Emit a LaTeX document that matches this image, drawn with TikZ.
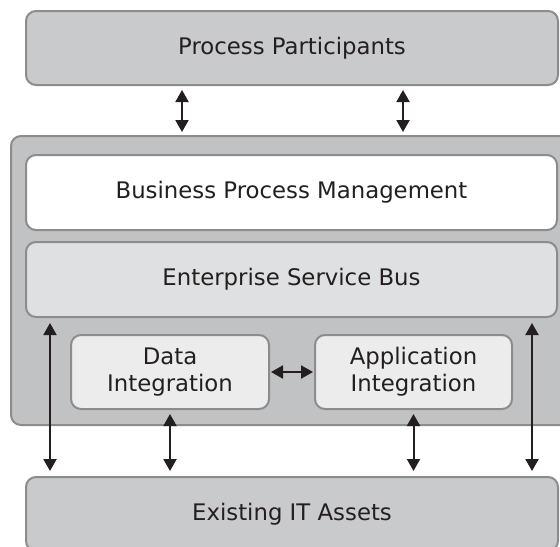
\documentclass[tikz,border=0pt]{standalone}
\usepackage{fontspec}
\setmainfont{DejaVu Sans}
\usetikzlibrary{arrows.meta}

\definecolor{boxgray}{HTML}{C9CACC}
\definecolor{coregray}{HTML}{C1C2C4}
\definecolor{busgray}{HTML}{DFE0E1}
\definecolor{intgray}{HTML}{ECECEC}
\definecolor{edgegray}{HTML}{8B8C8E}
\definecolor{inkblack}{HTML}{231F20}

\begin{document}
\begin{tikzpicture}[x=0.5pt, y=-0.5pt,
    layer/.style={draw=edgegray, line width=1pt, rounded corners=5pt, fill=#1,
        text=inkblack, align=center, inner sep=0pt,
        font=\fontsize{11.4}{13.5}\selectfont},
    link/.style={inkblack, line width=1pt,
        {Triangle[length=6pt,width=6.5pt]}-{Triangle[length=6pt,width=6.5pt]}}]
    \clip (0,0) rectangle (560,546);
    % layers
    \node[layer=boxgray, minimum width=266pt, minimum height=37pt] (pp) at (292,48) {Process Participants};
    \node[layer=coregray, minimum width=282pt, minimum height=144.5pt] (core) at (293,280.5) {};
    \node[layer=white, minimum width=265.5pt, minimum height=37.5pt] (bpm) at (291.5,192.5) {Business Process Management};
    \node[layer=busgray, minimum width=265.5pt, minimum height=37.5pt] (esb) at (291.5,279.5) {Enterprise Service Bus};
    \node[layer=intgray, minimum width=99pt, minimum height=37pt] (data) at (170,372) {Data\\Integration};
    \node[layer=intgray, minimum width=98.5pt, minimum height=37pt] (app) at (413.5,372) {Application\\Integration};
    \node[layer=boxgray, minimum width=266pt, minimum height=37pt] (ext) at (292,514) {Existing IT Assets};
    % x positions of the free-standing arrows
    \coordinate (t1) at (182,0);
    \coordinate (t2) at (403,0);
    \coordinate (s1) at (50,0);
    \coordinate (s2) at (532,0);
    % arrows
    \draw[link, shorten <=2pt, shorten >=1.5pt] (pp.south -| t1) -- (core.north -| t1);
    \draw[link, shorten <=2pt, shorten >=1.5pt] (pp.south -| t2) -- (core.north -| t2);
    \draw[link, shorten <=2.5pt, shorten >=2.5pt] (esb.south -| s1) -- (ext.north -| s1);
    \draw[link, shorten <=2.5pt, shorten >=2.5pt] (esb.south -| s2) -- (ext.north -| s2);
    \draw[link, shorten <=2pt, shorten >=2.5pt] (data.south) -- (ext.north -| data.south);
    \draw[link, shorten <=2pt, shorten >=2.5pt] (app.south) -- (ext.north -| app.south);
    \draw[link, shorten <=0.5pt, shorten >=0.5pt] (data.east) -- (app.west);
\end{tikzpicture}
\end{document}
